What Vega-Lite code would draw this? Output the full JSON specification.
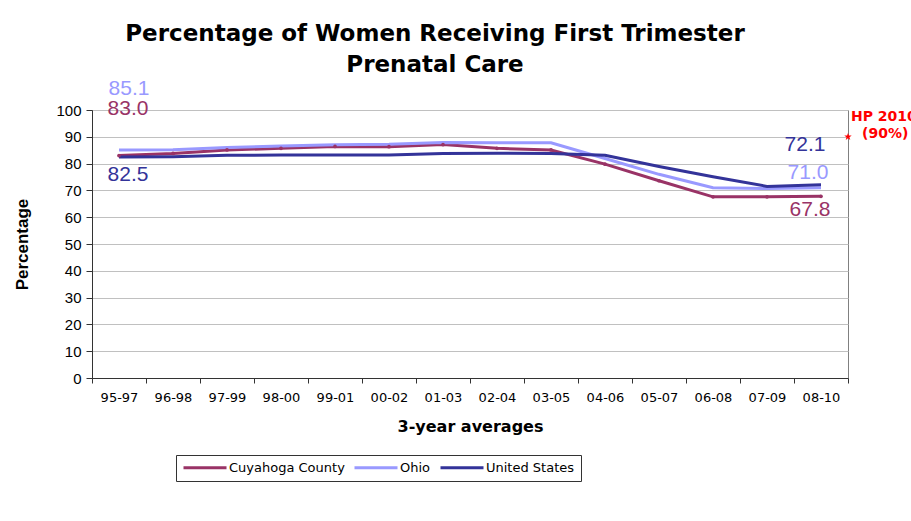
{
  "$schema": "https://vega.github.io/schema/vega-lite/v6.json",
  "autosize": "none",
  "width": 756,
  "height": 268,
  "padding": {"left": 92, "top": 110, "right": 63, "bottom": 143},
  "background": "white",
  "title": {
    "text": ["Percentage of Women Receiving First Trimester", "Prenatal Care"],
    "font": "DejaVu Sans",
    "fontSize": 23,
    "fontWeight": "bold",
    "color": "black",
    "lineHeight": 31,
    "anchor": "middle",
    "dx": -35,
    "offset": 1
  },
  "config": {
    "font": "Liberation Sans",
    "view": {"stroke": "#808080", "strokeWidth": 1}
  },
  "datasets": {
    "series": [
      {"period": "95-97", "series": "Cuyahoga County", "value": 83.0},
      {"period": "96-98", "series": "Cuyahoga County", "value": 83.8},
      {"period": "97-99", "series": "Cuyahoga County", "value": 85.1},
      {"period": "98-00", "series": "Cuyahoga County", "value": 85.7},
      {"period": "99-01", "series": "Cuyahoga County", "value": 86.4},
      {"period": "00-02", "series": "Cuyahoga County", "value": 86.3},
      {"period": "01-03", "series": "Cuyahoga County", "value": 87.1},
      {"period": "02-04", "series": "Cuyahoga County", "value": 85.7},
      {"period": "03-05", "series": "Cuyahoga County", "value": 85.1},
      {"period": "04-06", "series": "Cuyahoga County", "value": 79.8},
      {"period": "05-07", "series": "Cuyahoga County", "value": 73.6},
      {"period": "06-08", "series": "Cuyahoga County", "value": 67.6},
      {"period": "07-09", "series": "Cuyahoga County", "value": 67.6},
      {"period": "08-10", "series": "Cuyahoga County", "value": 67.8},
      {"period": "95-97", "series": "Ohio", "value": 85.1},
      {"period": "96-98", "series": "Ohio", "value": 85.2},
      {"period": "97-99", "series": "Ohio", "value": 86.0},
      {"period": "98-00", "series": "Ohio", "value": 86.6},
      {"period": "99-01", "series": "Ohio", "value": 87.0},
      {"period": "00-02", "series": "Ohio", "value": 87.2},
      {"period": "01-03", "series": "Ohio", "value": 87.9},
      {"period": "02-04", "series": "Ohio", "value": 87.8},
      {"period": "03-05", "series": "Ohio", "value": 87.8},
      {"period": "04-06", "series": "Ohio", "value": 81.9},
      {"period": "05-07", "series": "Ohio", "value": 76.0},
      {"period": "06-08", "series": "Ohio", "value": 71.0},
      {"period": "07-09", "series": "Ohio", "value": 70.7},
      {"period": "08-10", "series": "Ohio", "value": 71.0},
      {"period": "95-97", "series": "United States", "value": 82.5},
      {"period": "96-98", "series": "United States", "value": 82.6},
      {"period": "97-99", "series": "United States", "value": 83.1},
      {"period": "98-00", "series": "United States", "value": 83.2},
      {"period": "99-01", "series": "United States", "value": 83.2},
      {"period": "00-02", "series": "United States", "value": 83.2},
      {"period": "01-03", "series": "United States", "value": 83.8},
      {"period": "02-04", "series": "United States", "value": 83.9},
      {"period": "03-05", "series": "United States", "value": 83.8},
      {"period": "04-06", "series": "United States", "value": 83.1},
      {"period": "05-07", "series": "United States", "value": 78.9},
      {"period": "06-08", "series": "United States", "value": 75.1},
      {"period": "07-09", "series": "United States", "value": 71.5},
      {"period": "08-10", "series": "United States", "value": 72.1}
    ],
    "target": [{"period": "08-10", "value": 90, "label1": "HP 2010", "label2": "(90%)"}]
  },
  "data": {"name": "series"},
  "encoding": {
    "x": {
      "field": "period",
      "type": "ordinal",
      "bandPosition": 0.5,
      "scale": {
        "type": "band",
        "paddingInner": 0,
        "paddingOuter": 0,
        "domain": ["95-97","96-98","97-99","98-00","99-01","00-02","01-03","02-04","03-05","04-06","05-07","06-08","07-09","08-10"]
      },
      "axis": {
        "title": "3-year averages",
        "titleFont": "DejaVu Sans",
        "titleFontSize": 16,
        "titleFontWeight": "bold",
        "titleColor": "black",
        "titlePadding": 14,
        "labelFont": "DejaVu Sans",
        "labelFontSize": 13,
        "labelColor": "black",
        "labelAngle": 0,
        "labelPadding": 8,
        "tickBand": "extent",
        "tickSize": 5,
        "tickColor": "#333333",
        "domainColor": "#333333",
        "grid": false
      }
    },
    "y": {
      "field": "value",
      "type": "quantitative",
      "scale": {"domain": [0, 100], "nice": false},
      "axis": {
        "title": "Percentage",
        "titleFont": "Liberation Sans",
        "titleFontSize": 17,
        "titleFontWeight": "bold",
        "titleColor": "black",
        "titlePadding": 24,
        "values": [0,10,20,30,40,50,60,70,80,90,100],
        "labelFont": "Liberation Sans",
        "labelFontSize": 15,
        "labelColor": "black",
        "labelPadding": 5,
        "tickSize": 6,
        "tickColor": "#333333",
        "domainColor": "#333333",
        "gridColor": "#c0c0c0",
        "gridWidth": 1
      }
    }
  },
  "layer": [
    {
      "mark": {"type": "line", "strokeWidth": 3},
      "encoding": {
        "color": {
          "field": "series",
          "type": "nominal",
          "scale": {
            "domain": ["Cuyahoga County", "Ohio", "United States"],
            "range": ["#993366", "#9999ff", "#333399"]
          },
          "legend": {
            "title": null,
            "orient": "none",
            "legendX": 84,
            "legendY": 345,
            "direction": "horizontal",
            "symbolType": "M-1,0L7.6,0",
            "symbolSize": 100,
            "symbolStrokeWidth": 3,
            "symbolFillColor": "transparent",
            "labelFont": "DejaVu Sans",
            "labelFontSize": 13,
            "labelColor": "black",
            "labelOffset": 34,
            "columnPadding": 3,
            "padding": 6,
            "strokeColor": "#333333",
            "fillColor": "white"
          }
        },
        "order": {"field": "series", "sort": "descending"}
      }
    },
    {
      "transform": [{"filter": "datum.series === 'Cuyahoga County'"}],
      "mark": {"type": "point", "filled": true, "size": 14, "color": "#993366", "opacity": 1}
    },
    {
      "transform": [{"filter": "datum.series === 'Ohio' && datum.period === '95-97'"}],
      "mark": {"type": "text", "fontSize": 21, "color": "#9999ff", "dx": 10, "dy": -61},
      "encoding": {"text": {"field": "value", "type": "quantitative", "format": ".1f"}}
    },
    {
      "transform": [{"filter": "datum.series === 'Cuyahoga County' && datum.period === '95-97'"}],
      "mark": {"type": "text", "fontSize": 21, "color": "#993366", "dx": 9, "dy": -47},
      "encoding": {"text": {"field": "value", "type": "quantitative", "format": ".1f"}}
    },
    {
      "transform": [{"filter": "datum.series === 'United States' && datum.period === '95-97'"}],
      "mark": {"type": "text", "fontSize": 21, "color": "#333399", "dx": 9, "dy": 18},
      "encoding": {"text": {"field": "value", "type": "quantitative", "format": ".1f"}}
    },
    {
      "transform": [{"filter": "datum.series === 'United States' && datum.period === '08-10'"}],
      "mark": {"type": "text", "fontSize": 21, "color": "#333399", "dx": -16, "dy": -40},
      "encoding": {"text": {"field": "value", "type": "quantitative", "format": ".1f"}}
    },
    {
      "transform": [{"filter": "datum.series === 'Ohio' && datum.period === '08-10'"}],
      "mark": {"type": "text", "fontSize": 21, "color": "#9999ff", "dx": -13, "dy": -15},
      "encoding": {"text": {"field": "value", "type": "quantitative", "format": ".1f"}}
    },
    {
      "transform": [{"filter": "datum.series === 'Cuyahoga County' && datum.period === '08-10'"}],
      "mark": {"type": "text", "fontSize": 21, "color": "#993366", "dx": -11, "dy": 14},
      "encoding": {"text": {"field": "value", "type": "quantitative", "format": ".1f"}}
    },
    {
      "data": {"name": "target"},
      "mark": {
        "type": "point",
        "shape": "M0,-1L0.235,-0.324L0.951,-0.309L0.38,0.124L0.588,0.809L0,0.4L-0.588,0.809L-0.38,0.124L-0.951,-0.309L-0.235,-0.324Z",
        "filled": true,
        "size": 60,
        "color": "#ff0000",
        "opacity": 1,
        "dx": -1,
        "dy": -4
      },
      "encoding": {"x": {"field": "period", "type": "ordinal", "bandPosition": 1}}
    },
    {
      "data": {"name": "target"},
      "mark": {"type": "text", "align": "left", "font": "DejaVu Sans", "fontSize": 14, "fontWeight": "bold", "color": "#ff0000", "dx": 3, "dy": -20},
      "encoding": {"x": {"field": "period", "type": "ordinal", "bandPosition": 1}, "text": {"field": "label1"}}
    },
    {
      "data": {"name": "target"},
      "mark": {"type": "text", "align": "left", "font": "DejaVu Sans", "fontSize": 14, "fontWeight": "bold", "color": "#ff0000", "dx": 14, "dy": -3},
      "encoding": {"x": {"field": "period", "type": "ordinal", "bandPosition": 1}, "text": {"field": "label2"}}
    }
  ]
}
